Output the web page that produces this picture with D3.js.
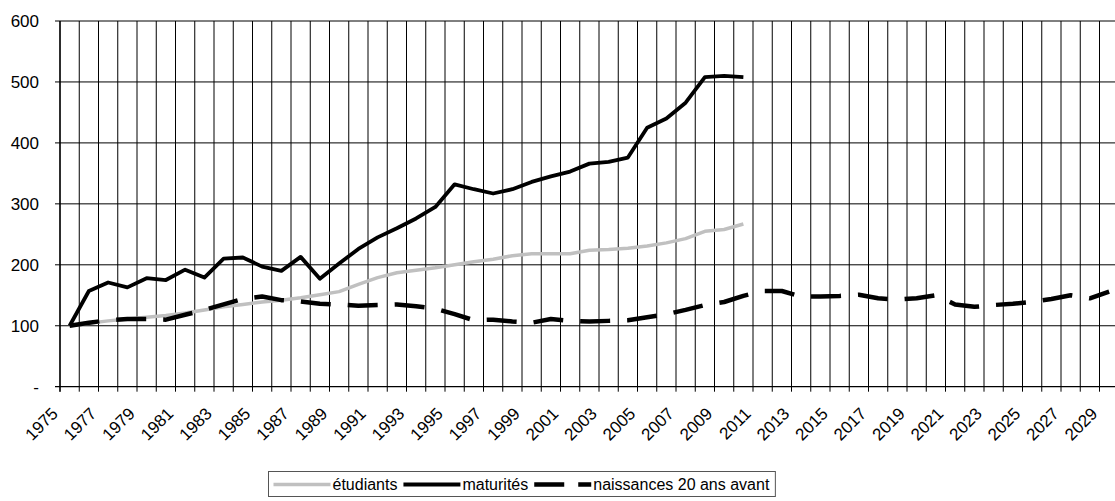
<!DOCTYPE html>
<html>
<head>
<meta charset="utf-8">
<script src="https://cdn.jsdelivr.net/npm/d3@7"></script>
<style>
  html, body { margin: 0; padding: 0; background: #fff; }
  svg { display: block; }
  text { font-family: "Liberation Sans", Arial, sans-serif; fill: #000; }
</style>
</head>
<body>
<svg id="chart" width="1115" height="501"></svg>
<script>
// ---- data ----
const years = d3.range(1975, 2030); // 1975..2029 categories
const labelYears = d3.range(1975, 2030, 2);
const yTicks = [0, 100, 200, 300, 400, 500, 600];

const etudiantsYears = d3.range(1975, 2011);
const etudiants = [100, 104, 108, 111, 114, 117, 121, 126, 131, 135,
                   139, 142, 146, 151, 156, 168, 179, 187, 191, 195,
                   200, 205, 209, 215, 218, 218, 218, 224, 225, 227,
                   231, 236, 243, 255, 258, 267];

const maturitesYears = d3.range(1975, 2011);
const maturites = [100, 157, 171, 163, 178, 175, 192, 179, 210, 212,
                   197, 190, 213, 177, 202, 226, 245, 260, 276, 295,
                   332, 324, 317, 324, 336, 345, 353, 366, 369, 376,
                   425, 440, 466, 508, 510, 508];

const naissancesYears = d3.range(1975, 2030);
const naissances = [100, 105, 109, 111, 111, 110, 118, 126, 135, 144,
                    148, 142, 140, 136, 135, 133, 134, 135, 132, 128,
                    119, 109, 110, 107, 105, 111, 108, 107, 108, 109,
                    114, 119, 126, 134, 139, 149, 157, 157, 148, 148,
                    149, 151, 145, 143, 145, 150, 135, 131, 134, 136,
                    139, 144, 150, 145, 156];

const seriesNames = ["étudiants", "maturités", "naissances 20 ans avant"];

// ---- layout ----
const svg = d3.select("#chart");
const pLeft = 60, pTop = 21, pBottom = 386.7, step = 19.25;
const pRight = pLeft + years.length * step;

const x = d3.scaleBand().domain(years).range([pLeft, pRight]).paddingInner(0).paddingOuter(0);
const y = d3.scaleLinear().domain([0, 600]).range([pBottom, pTop]);
const cx = yr => x(yr) + x.bandwidth() / 2;

svg.append("clipPath").attr("id", "plotclip")
  .append("rect").attr("x", pLeft).attr("y", pTop - 5).attr("width", pRight - pLeft).attr("height", pBottom - pTop + 5);

// horizontal gridlines
svg.append("g").selectAll("line").data(yTicks.filter(d => d > 0)).join("line")
  .attr("x1", pLeft - 5).attr("x2", pRight)
  .attr("y1", d => y(d)).attr("y2", d => y(d))
  .attr("stroke", "#000").attr("stroke-width", 1);

// vertical gridlines (category boundaries)
const bounds = years.map(d => x(d)).concat([pRight]);
svg.append("g").selectAll("line").data(bounds).join("line")
  .attr("x1", d => d).attr("x2", d => d)
  .attr("y1", pTop).attr("y2", pBottom + 5)
  .attr("stroke", "#000").attr("stroke-width", 1);

// axes lines
svg.append("line").attr("x1", pLeft - 5).attr("x2", pRight).attr("y1", pBottom).attr("y2", pBottom)
  .attr("stroke", "#000").attr("stroke-width", 1.3);
svg.append("line").attr("x1", pLeft).attr("x2", pLeft).attr("y1", pTop).attr("y2", pBottom + 5)
  .attr("stroke", "#000").attr("stroke-width", 1.3);

// y labels
svg.append("g").selectAll("text").data(yTicks).join("text")
  .attr("x", 39).attr("y", d => y(d)).attr("dy", "0.36em")
  .attr("text-anchor", "end").style("font-size", "17px")
  .text(d => d === 0 ? "-" : d3.format("d")(d));

// x labels
svg.append("g").selectAll("text").data(labelYears).join("text")
  .attr("text-anchor", "end").style("font-size", "17px")
  .attr("transform", d => `translate(${x(d) - 1},${pBottom + 28}) rotate(-45)`)
  .text(d => d);

// lines
const line = d3.line().x(d => cx(d[0])).y(d => y(d[1]));
const g = svg.append("g").attr("clip-path", "url(#plotclip)");

g.append("path").datum(d3.zip(etudiantsYears, etudiants))
  .attr("d", line).attr("fill", "none").attr("stroke", "#c0c0c0")
  .attr("stroke-width", 3.5).attr("stroke-linejoin", "round");

g.append("path").datum(d3.zip(naissancesYears, naissances))
  .attr("d", line).attr("fill", "none").attr("stroke", "#000")
  .attr("stroke-width", 4.5).attr("stroke-dasharray", "30,17").attr("stroke-linejoin", "round");

g.append("path").datum(d3.zip(maturitesYears, maturites))
  .attr("d", line).attr("fill", "none").attr("stroke", "#000")
  .attr("stroke-width", 3.8).attr("stroke-linejoin", "round");

// legend
const lg = svg.append("g");
const box = lg.append("rect").attr("y", 471.5).attr("height", 25)
  .attr("fill", "#fff").attr("stroke", "#555").attr("stroke-width", 1);
const ly = 484.5;
const styles = [
  {stroke: "#c0c0c0", w: 3.5, dash: null},
  {stroke: "#000", w: 3.8, dash: null},
  {stroke: "#000", w: 4.5, dash: "30,14"}
];
const boxLeft = 268.5, sample = 57;
let cur = boxLeft + 5;
seriesNames.forEach((name, i) => {
  const st = styles[i];
  lg.append("line").attr("x1", cur).attr("x2", cur + sample).attr("y1", ly).attr("y2", ly)
    .attr("stroke", st.stroke).attr("stroke-width", st.w).attr("stroke-dasharray", st.dash);
  cur += sample + 2;
  const t = lg.append("text").attr("x", cur).attr("y", ly).attr("dy", "0.36em")
    .style("font-size", "16px").text(name);
  cur += t.node().getComputedTextLength() + 6;
});
box.attr("x", boxLeft).attr("width", cur - boxLeft);
</script>
</body>
</html>
